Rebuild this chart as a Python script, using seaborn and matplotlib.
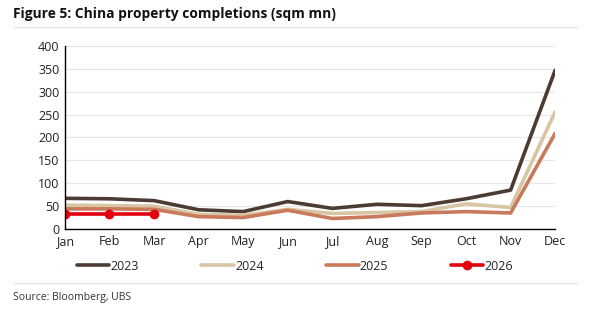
import numpy as np
import pandas as pd
import seaborn as sns
import matplotlib.pyplot as plt
from matplotlib.lines import Line2D

# data
months = ["Jan", "Feb", "Mar", "Apr", "May", "Jun", "Jul", "Aug", "Sep", "Oct", "Nov", "Dec"]
y2023 = [67, 66, 62, 42, 38, 60, 45, 54, 51, 66, 85, 347]
y2024 = [52, 51, 50, 32, 30, 43, 34, 36, 38, 55, 47, 256]
y2025 = [44, 44, 43, 27, 25, 41, 23, 27, 35, 38, 35, 209]
y2026 = [32, 32, 32]

colors = {"2023": "#4b3b33", "2024": "#d8c5a3", "2025": "#c9795c", "2026": "#e3000f"}

sns.set_theme(style="whitegrid")
plt.rcParams['font.family'] = ['Open Sans', 'DejaVu Sans']

fig = plt.figure(figsize=(5.9, 3.12), dpi=100)
ax = fig.add_axes([0.110, 0.266, 0.831, 0.587])

x = np.arange(len(months))
for name, vals in [("2023", y2023), ("2024", y2024), ("2025", y2025)]:
    sns.lineplot(x=x, y=vals, ax=ax, color=colors[name], linewidth=2.6, label=name)
sns.lineplot(x=x[:len(y2026)], y=y2026, ax=ax, color=colors["2026"], linewidth=2.6,
             marker="o", markersize=7, markeredgewidth=0, label="2026")

ax.set_xlim(0, 11)
ax.set_ylim(0, 400)
ax.set_yticks(range(0, 401, 50))
ax.set_xticks(x)
ax.set_xticklabels(months)
ax.tick_params(axis="both", labelsize=9, colors="#222222", length=0, pad=4)
ax.grid(axis="y", color="#e6e6e6", linewidth=0.8)
ax.grid(axis="x", visible=False)
for s in ["top", "right"]:
    ax.spines[s].set_visible(False)
for s in ["left", "bottom"]:
    ax.spines[s].set_color("black")
    ax.spines[s].set_linewidth(1.0)

ax.get_legend().remove()
handles = [Line2D([], [], color=colors[k], linewidth=2.6) for k in ["2023", "2024", "2025"]]
handles.append(Line2D([], [], color=colors["2026"], linewidth=2.6, marker="o", markersize=6))
fig.legend(handles, ["2023", "2024", "2025", "2026"], loc="center", ncol=4,
           bbox_to_anchor=(0.50, 0.147), frameon=False, fontsize=9,
           handlelength=2.6, handletextpad=0.1, columnspacing=5.0)

fig.text(0.022, 0.955, "Figure 5: China property completions (sqm mn)",
         fontsize=9.9, fontweight="bold", va="center", color="#111111")
fig.add_artist(Line2D([0.022, 0.98], [0.913, 0.913], color="#e3e3e3", linewidth=0.8))
fig.add_artist(Line2D([0.022, 0.98], [0.093, 0.093], color="#e3e3e3", linewidth=0.8))
fig.text(0.022, 0.048, "Source: Bloomberg, UBS", fontsize=7.5, va="center", color="#333333")

fig.savefig("out.png", dpi=100)
